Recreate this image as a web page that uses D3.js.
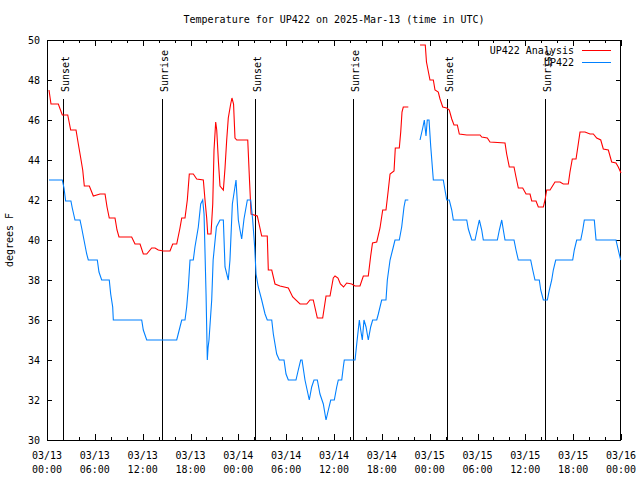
<!DOCTYPE html>
<html><head><meta charset="utf-8">
<script src="https://cdn.jsdelivr.net/npm/d3@7"></script>
<style>
body{margin:0;background:#fff;}
svg{display:block;}
text{font-family:"DejaVu Sans Mono","Liberation Mono",monospace;font-size:10px;fill:#000;}
</style></head>
<body><svg id="c" width="640" height="480"></svg>
<script>
// ---- data (hours since 2025-03-13 00:00 UTC, degrees F) ----
const titleText = "Temperature for UP422 on 2025-Mar-13 (time in UTC)";
const yLabel = "degrees F";
const seriesNames = ["UP422 Analysis", "UP422"];
const seriesColors = ["#ff0000", "#0080ff"];

const xTickHours = [0, 6, 12, 18, 24, 30, 36, 42, 48, 54, 60, 66, 72];
const xTickDates = ["03/13","03/13","03/13","03/13","03/14","03/14","03/14","03/14","03/15","03/15","03/15","03/15","03/16"];
const xTickTimes = ["00:00","06:00","12:00","18:00","00:00","06:00","12:00","18:00","00:00","06:00","12:00","18:00","00:00"];
const xMinorHours = d3.range(0, 73, 2);
const yTicks = [30, 32, 34, 36, 38, 40, 42, 44, 46, 48, 50];

const eventHours = [2.05, 14.45, 26.1, 38.4, 50.2, 62.5];
const eventLabels = ["Sunset", "Sunrise", "Sunset", "Sunrise", "Sunset", "Sunrise"];

// UP422 Analysis (null = gap)
const analysisHours = [0.25,0.5,1.42,1.92,2.6,2.97,3.64,3.93,4.23,4.48,4.68,5.31,5.81,6.65,7.28,7.53,7.81,8.53,8.78,9.03,10.62,11.04,11.67,12.08,12.51,13.13,13.55,13.96,14.59,15.43,15.77,16.27,16.68,16.9,17.31,17.6,17.85,18.35,18.78,19.61,19.82,20.03,20.16,20.57,20.79,20.95,21.16,21.29,21.49,21.7,22.12,22.33,22.54,22.74,23.04,23.2,23.4,23.58,23.8,25.18,25.4,25.6,26.38,26.93,27.63,27.76,28.19,28.6,29.23,30.27,30.82,31.74,32.58,32.99,33.4,33.91,34.58,35.0,35.5,35.91,36.13,36.5,36.8,37.2,37.59,38.22,38.64,39.26,39.68,40.3,40.6,40.83,41.36,41.77,42.11,42.52,42.81,43.03,43.53,43.69,44.19,44.37,44.53,44.69,45.32,46.0,46.79,47.45,47.6,48.04,48.46,48.67,49.08,49.3,49.64,50.14,50.46,50.77,51.05,51.47,51.72,52.65,54.32,54.53,55.23,55.57,57.45,57.66,57.99,58.58,58.83,59.12,59.67,60.09,60.59,60.8,61.34,61.63,62.26,62.47,62.68,63.1,63.72,64.35,64.76,65.39,65.6,65.89,66.36,66.64,66.86,67.48,68.11,68.53,68.95,69.46,69.78,70.41,70.83,71.37,71.66,72.0];
const analysisTemps = [47.5,46.8,46.8,46.25,46.25,45.5,45.5,44.8,44.1,43.5,42.7,42.7,42.2,42.3,42.3,41.65,41.1,41.1,40.5,40.15,40.15,39.8,39.8,39.3,39.3,39.6,39.6,39.5,39.45,39.45,39.8,39.8,40.6,41.1,41.1,42.0,43.3,43.3,43.05,43.0,42.0,41.1,40.3,40.3,41.8,44.5,45.9,45.5,44.0,42.7,42.5,43.6,45.0,46.1,46.8,47.1,46.8,45.1,45.0,45.0,43.0,41.3,41.2,40.2,40.2,38.5,38.5,37.8,37.7,37.6,37.15,36.8,36.8,37.0,37.0,36.1,36.1,37.2,37.2,38.1,38.2,38.1,37.8,37.65,37.85,37.8,37.7,37.7,38.2,38.2,39.2,39.85,39.9,40.6,41.5,41.5,42.5,43.3,43.45,44.6,44.6,45.4,46.4,46.65,46.65,null,49.75,49.75,48.9,48.0,48.0,47.5,47.4,47.05,46.65,46.6,46.5,46.05,45.75,45.75,45.3,45.25,45.25,45.15,45.1,44.9,44.85,44.3,43.65,43.65,43.15,42.6,42.6,42.3,42.3,41.95,41.95,41.65,41.65,42.0,42.5,42.5,42.9,42.9,42.8,42.8,43.4,44.05,44.05,44.8,45.4,45.4,45.3,45.3,45.1,45.0,44.55,44.5,43.9,43.85,43.65,43.35];

// UP422 observations (null = gap)
const obsHours = [0.25,1.92,2.13,2.34,3.0,3.17,3.51,4.14,4.35,4.64,4.98,5.18,6.31,6.52,6.86,7.81,7.99,8.24,8.32,11.88,12.08,12.51,16.27,16.68,16.9,17.31,17.52,17.73,17.94,18.35,18.56,18.98,19.28,19.53,19.7,19.95,20.11,20.2,20.32,20.66,20.84,21.25,21.7,22.12,22.33,22.74,22.95,23.25,23.71,24.0,24.21,24.42,24.71,25.13,25.55,25.8,26.05,26.22,26.5,26.93,27.35,27.63,28.19,28.39,28.81,29.14,29.73,29.98,30.27,31.23,31.52,31.82,31.99,32.36,32.9,33.2,33.49,33.91,34.24,34.66,35.0,35.29,35.59,36.04,36.34,36.54,36.97,37.17,37.29,38.64,38.85,39.18,39.35,39.55,39.76,40.02,40.3,40.6,40.85,41.36,41.56,41.98,42.52,42.69,43.03,43.44,43.65,44.19,44.49,44.78,44.95,45.32,46.0,46.79,47.13,47.33,47.54,47.7,47.92,48.13,48.46,49.71,49.92,50.14,50.46,50.77,50.97,52.65,52.85,53.28,53.69,53.98,54.23,54.53,54.73,56.49,56.74,57.04,57.24,57.45,58.58,58.83,59.12,60.67,60.93,61.21,61.75,61.93,62.26,62.76,63.01,63.31,63.51,63.81,65.94,66.14,66.44,66.95,67.2,67.4,68.65,68.87,71.37,71.66,71.96];
const obsTemps = [43.0,43.0,42.6,41.95,41.95,41.6,41.0,41.0,40.6,40.0,39.3,39.0,39.0,38.4,38.0,38.0,37.3,36.65,36.0,36.0,35.5,35.0,35.0,35.65,36.0,36.0,36.65,37.65,39.0,39.0,39.65,40.65,41.8,42.0,41.3,37.3,34.0,34.6,35.0,37.0,39.0,40.65,41.0,41.0,38.65,38.0,39.0,41.8,43.0,41.0,40.5,40.05,41.05,42.0,42.0,41.0,39.65,38.3,37.65,37.0,36.3,36.0,36.0,35.3,34.3,34.0,34.0,33.3,33.0,33.0,33.5,34.0,34.0,33.0,32.0,32.65,33.0,33.0,32.3,31.8,31.0,31.5,32.0,32.0,32.65,33.0,33.0,33.65,34.0,34.0,34.8,36.0,35.5,35.0,36.0,35.65,35.0,35.65,36.0,36.0,36.3,37.0,37.0,38.0,39.0,39.65,40.0,40.0,40.65,41.65,42.0,42.0,null,45.0,45.6,46.0,45.2,46.0,46.0,44.7,43.0,43.0,42.5,42.0,42.0,41.5,41.0,41.0,40.55,40.0,40.0,40.55,41.0,40.5,40.0,40.0,40.5,41.0,40.5,40.0,40.0,39.5,39.0,39.0,38.5,38.0,38.0,37.5,37.0,37.0,37.5,38.0,38.5,39.0,39.0,39.5,40.0,40.0,40.5,41.0,41.0,40.0,40.0,39.5,39.0];

// ---- drawing ----
const svg = d3.select("#c");
const L = 47, R = 621, T = 40, B = 440;
const x = d3.scaleLinear().domain([0, 72]).range([L, R]);
const y = d3.scaleLinear().domain([30, 50]).range([B, T]);

// title
svg.append("text").attr("x", (L + R) / 2).attr("y", 23).attr("text-anchor", "middle").text(titleText);

// y label
svg.append("text").attr("transform", `translate(13,${(T + B) / 2}) rotate(-90)`)
  .attr("text-anchor", "middle").text(yLabel);

const g = svg.append("g").attr("shape-rendering", "crispEdges");

// major/minor x ticks (bottom and top, inward)
g.append("g").attr("transform", `translate(0,${B})`)
  .call(d3.axisBottom(x).tickValues(xMinorHours).tickSize(-3).tickFormat(""))
  .call(a => a.select(".domain").remove());
g.append("g").attr("transform", `translate(0,${B})`)
  .call(d3.axisBottom(x).tickValues(xTickHours).tickSize(-6).tickFormat(""))
  .call(a => a.select(".domain").remove());
g.append("g").attr("transform", `translate(0,${T})`)
  .call(d3.axisTop(x).tickValues(xMinorHours).tickSize(-3).tickFormat(""))
  .call(a => a.select(".domain").remove());
g.append("g").attr("transform", `translate(0,${T})`)
  .call(d3.axisTop(x).tickValues(xTickHours).tickSize(-6).tickFormat(""))
  .call(a => a.select(".domain").remove());
// y ticks (left and right)
g.append("g").attr("transform", `translate(${L},0)`)
  .call(d3.axisLeft(y).tickValues(yTicks).tickSize(-5).tickFormat(""))
  .call(a => a.select(".domain").remove());
g.append("g").attr("transform", `translate(${R},0)`)
  .call(d3.axisRight(y).tickValues(yTicks).tickSize(-5).tickFormat(""))
  .call(a => a.select(".domain").remove());

// tick labels
const xl = svg.append("g");
xTickHours.forEach((h, i) => {
  xl.append("text").attr("x", x(h)).attr("y", 459).attr("text-anchor", "middle").text(xTickDates[i]);
  xl.append("text").attr("x", x(h)).attr("y", 473).attr("text-anchor", "middle").text(xTickTimes[i]);
});
const yl = svg.append("g");
yTicks.forEach(v => {
  yl.append("text").attr("x", 40).attr("y", y(v)).attr("dy", "0.35em").attr("text-anchor", "end").text(v);
});

// sunrise / sunset markers
eventHours.forEach((h, i) => {
  g.append("line").attr("x1", Math.round(x(h)) + 0.5).attr("x2", Math.round(x(h)) + 0.5)
    .attr("y1", 99).attr("y2", B).attr("stroke", "#000").attr("stroke-width", 1);
  svg.append("text").attr("transform", `translate(${Math.round(x(h)) + 5.5},92) rotate(-90)`)
    .attr("text-anchor", "start").text(eventLabels[i]);
});

// series lines
function drawSeries(hours, temps, color) {
  const pts = hours.map((h, i) => [h, temps[i]]);
  const line = d3.line().defined(d => d[1] !== null).x(d => x(d[0])).y(d => y(d[1]));
  svg.append("path").datum(pts).attr("d", line).attr("fill", "none")
    .attr("stroke", color).attr("stroke-width", 1.1).attr("stroke-linejoin", "miter");
}
drawSeries(analysisHours, analysisTemps, seriesColors[0]);
drawSeries(obsHours, obsTemps, seriesColors[1]);

// border
g.append("rect").attr("x", L + 0.5).attr("y", T + 0.5).attr("width", R - L - 1).attr("height", B - T)
  .attr("fill", "none").attr("stroke", "#000");

// legend
seriesNames.forEach((n, i) => {
  const ly = 50 + i * 12;
  svg.append("text").attr("x", 574).attr("y", ly).attr("dy", "0.35em").attr("text-anchor", "end").text(n);
  g.append("line").attr("x1", 582).attr("x2", 611).attr("y1", ly + 0.5).attr("y2", ly + 0.5)
    .attr("stroke", seriesColors[i]).attr("stroke-width", 1);
});
</script></body></html>
